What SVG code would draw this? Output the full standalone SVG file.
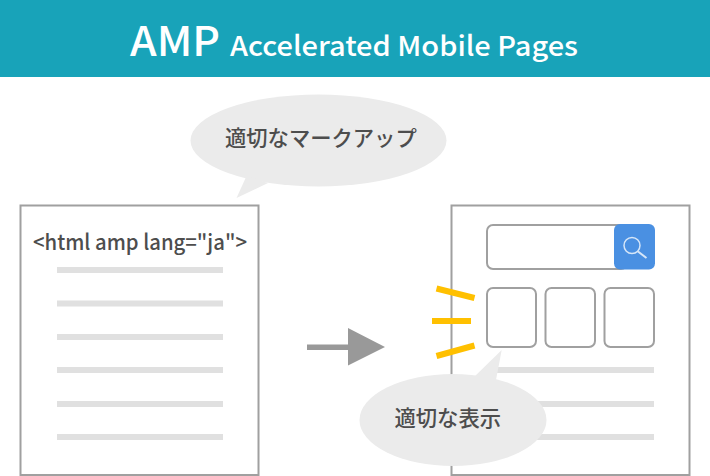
<svg xmlns="http://www.w3.org/2000/svg" width="710" height="476" viewBox="0 0 710 476">
<style>
.jp{font-family:"Noto Sans CJK JP","Noto Sans",sans-serif}
.page{fill:#fff;stroke:#a0a0a0;stroke-width:2}
.bar{fill:#e0e0e0}
.box{fill:#fff;stroke:#a0a0a0;stroke-width:2}
.bubble{fill:#ebebeb}
.dark{fill:#4d4d4d;font-size:21.3px;font-weight:500}
.ray{stroke:#ffc000;stroke-width:6;fill:none}
</style>
<rect width="710" height="77" fill="#18a3b9"/>
<g id="title" class="jp" fill="#fff">
<text x="130" y="56" font-size="41" font-weight="500" textLength="90" lengthAdjust="spacingAndGlyphs">AMP</text>
<text x="230" y="55.500" font-size="27.500" font-weight="500" textLength="348" lengthAdjust="spacingAndGlyphs">Accelerated Mobile Pages</text>
</g>
<g id="source-page">
<rect class="page" x="20.500" y="205.500" width="238" height="269.500"/>
<text class="jp" x="33" y="250" font-size="21.500" font-weight="500" fill="#4d4d4d" textLength="214" lengthAdjust="spacingAndGlyphs">&lt;html amp lang="ja"&gt;</text>
<rect class="bar" x="57" y="267" width="166" height="6"/>
<rect class="bar" x="57" y="300.500" width="166" height="6"/>
<rect class="bar" x="57" y="334" width="166" height="6"/>
<rect class="bar" x="57" y="367" width="166" height="6"/>
<rect class="bar" x="57" y="401" width="166" height="6"/>
<rect class="bar" x="57" y="434" width="166" height="6"/>
</g>
<g id="result-page">
<rect class="page" x="451.500" y="205.500" width="238" height="269.500"/>
<rect class="box" x="487" y="225" width="140" height="44" rx="6"/>
<rect x="614" y="224" width="41" height="45.500" rx="6" fill="#4a90e2"/>
<g fill="none" stroke="#d6e6f8">
<circle cx="632" cy="245.500" r="8" stroke-width="1.500"/>
<line x1="638" y1="251.500" x2="646.500" y2="258" stroke-width="2"/>
</g>
<rect class="box" x="487" y="288" width="49" height="59" rx="6"/>
<rect class="box" x="545.500" y="288" width="49.500" height="59" rx="6"/>
<rect class="box" x="604.500" y="288" width="49.500" height="59" rx="6"/>
<rect class="bar" x="488" y="367" width="166" height="6"/>
<rect class="bar" x="488" y="401" width="166" height="6"/>
<rect class="bar" x="488" y="434" width="166" height="6"/>
</g>
<g id="highlight-rays">
<line class="ray" x1="436.500" y1="288.500" x2="474.500" y2="298"/>
<line class="ray" x1="432" y1="321" x2="471" y2="321"/>
<line class="ray" x1="436.500" y1="356" x2="474.500" y2="345.500"/>
</g>
<g id="connectors">
<path d="M307 344.500H348V328L385 347L348 365.500V350H307Z" fill="#999"/>
</g>
<g id="bubble-markup">
<ellipse class="bubble" cx="318.500" cy="140.500" rx="128" ry="46"/>
<path class="bubble" d="M236.500 198L246.500 176L268 183Z"/>
<text class="jp dark" x="225" y="146">適切なマークアップ</text>
</g>
<g id="bubble-display">
<ellipse class="bubble" cx="453" cy="420" rx="93.500" ry="46"/>
<path class="bubble" d="M501.700 350L473 378L496 380Z"/>
<text class="jp dark" x="394.500" y="426">適切な表示</text>
</g>
</svg>
